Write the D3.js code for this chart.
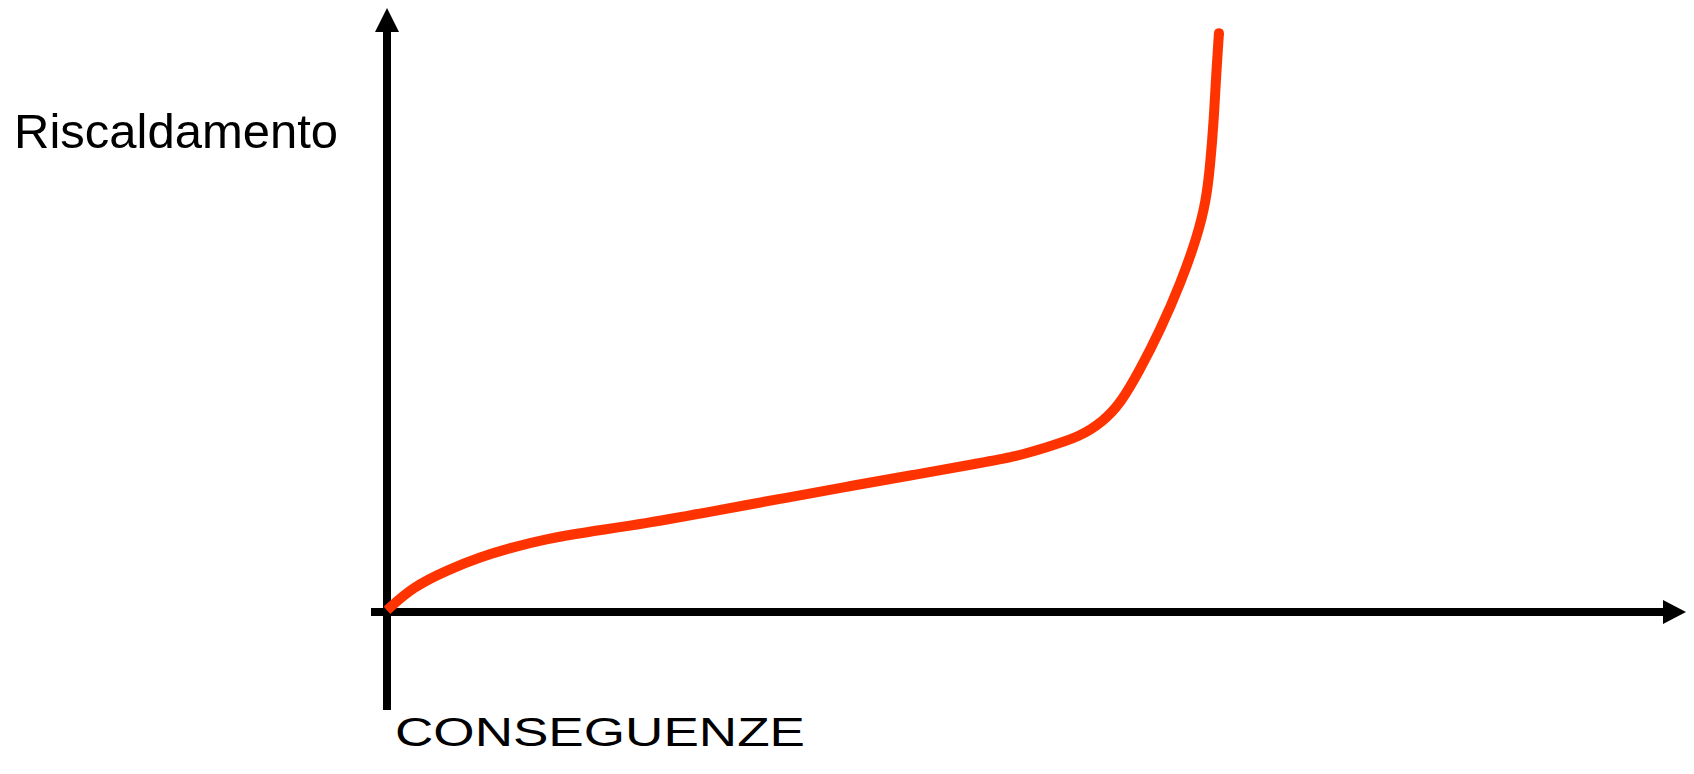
<!DOCTYPE html>
<html>
<head>
<meta charset="utf-8">
<script src="https://cdn.jsdelivr.net/npm/d3@7"></script>
<style>
  body { margin: 0; background: #fff; }
  text { font-family: "Liberation Sans", Arial, sans-serif; }
</style>
</head>
<body>
<div id="chart"></div>
<script>
// Curve (arbitrary units 0-100 on both axes)
const conseguenze = [0, 2.0, 4.7, 7.3, 9.9, 12.5, 15.1, 20.4, 25.6, 30.8, 36.0, 41.2, 46.5, 49.1, 51.7, 54.3, 56.1, 57.5, 59.0, 60.6, 62.2, 63.5, 64.2, 64.5, 64.8, 65.0, 65.2];
const riscaldamento = [0.3, 4.3, 7.2, 9.5, 11.2, 12.6, 13.6, 15.3, 17.4, 19.5, 21.6, 23.6, 25.7, 26.7, 28.4, 30.2, 32.8, 36.0, 41.7, 48.6, 56.7, 64.7, 71.0, 76.7, 84.8, 93.4, 99.8];
const yLabel = "Riscaldamento";
const xLabel = "CONSEGUENZE";

const width = 1694;
const height = 774;

const svg = d3.select("#chart")
    .append("svg")
    .attr("width", width)
    .attr("height", height);

// Scales: origin sits where the two arrows cross
const x = d3.scaleLinear().domain([0, 100]).range([387, 1663]);
const y = d3.scaleLinear().domain([0, 100]).range([612, 32]);

const axisWidth = 8;
const head = 12; // half-width of arrowheads

// Vertical axis
svg.append("line")
    .attr("x1", x(0)).attr("x2", x(0))
    .attr("y1", 710).attr("y2", y(100))
    .attr("stroke", "#000")
    .attr("stroke-width", axisWidth);
svg.append("path")
    .attr("d", `M${x(0)},${y(100) - 24}L${x(0) + head},${y(100)}L${x(0) - head},${y(100)}Z`)
    .attr("fill", "#000");

// Horizontal axis
svg.append("line")
    .attr("x1", 371).attr("x2", x(100))
    .attr("y1", y(0)).attr("y2", y(0))
    .attr("stroke", "#000")
    .attr("stroke-width", axisWidth);
svg.append("path")
    .attr("d", `M${x(100) + 23},${y(0)}L${x(100)},${y(0) - head}L${x(100)},${y(0) + head}Z`)
    .attr("fill", "#000");

// The curve
const points = conseguenze.map((c, i) => [c, riscaldamento[i]]);
const line = d3.line()
    .x(d => x(d[0]))
    .y(d => y(d[1]))
    .curve(d3.curveBasis);

svg.append("path")
    .datum(points)
    .attr("d", line)
    .attr("fill", "none")
    .attr("stroke", "#FF3300")
    .attr("stroke-width", 10);

// rounded tip at the top end
const last = points[points.length - 1];
svg.append("circle")
    .attr("cx", x(last[0]))
    .attr("cy", y(last[1]))
    .attr("r", 5)
    .attr("fill", "#FF3300");

// Labels
svg.append("text")
    .attr("x", 14)
    .attr("y", 148)
    .attr("font-size", 49)
    .attr("fill", "#000")
    .text(yLabel);

svg.append("text")
    .attr("x", 395)
    .attr("y", 746)
    .attr("font-size", 40)
    .attr("fill", "#000")
    .attr("textLength", 410)
    .attr("lengthAdjust", "spacingAndGlyphs")
    .text(xLabel);
</script>
</body>
</html>
